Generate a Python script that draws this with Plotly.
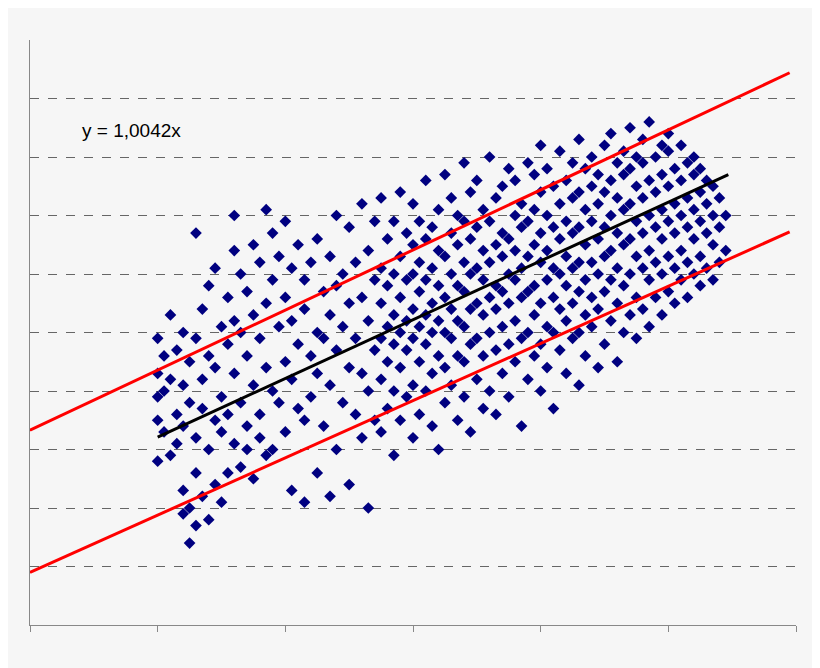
import plotly.graph_objects as go

# scatter cloud, stored as x columns with their y values
col_x = [1.0, 1.05, 1.1, 1.15, 1.2, 1.25, 1.3, 1.35, 1.4, 1.45, 1.5, 1.55, 1.6, 1.65, 1.7,
         1.75, 1.8, 1.85, 1.9, 1.95, 2.0, 2.05, 2.1, 2.15, 2.2, 2.25, 2.3, 2.35, 2.4, 2.45,
         2.5, 2.55, 2.6, 2.65, 2.7, 2.75, 2.8, 2.85, 2.9, 2.95, 3.0, 3.05, 3.1, 3.15, 3.2,
         3.25, 3.3, 3.35, 3.4, 3.45, 3.5, 3.55, 3.6, 3.65, 3.7, 3.75, 3.8, 3.85, 3.9, 3.95,
         4.0, 4.05, 4.1, 4.15, 4.2, 4.25, 4.3, 4.35, 4.4, 4.45, 4.5, 4.55, 4.6, 4.65, 4.7,
         4.75, 4.8, 4.85, 4.9, 4.95, 5.0, 5.05, 5.1, 5.15, 5.2, 5.25, 5.3, 5.35, 5.4, 5.45]
col_y = [
    [3.5, 4.3, 4.9, 2.8, 3.9], [4.0, 3.3, 4.6], [2.9, 4.2, 5.3], [3.6, 4.7, 3.1],
    [2.3, 1.9, 4.1, 5.0, 3.4], [1.4, 2.0, 3.8, 4.5], [1.7, 2.6, 4.9, 3.2, 6.7],
    [2.2, 3.7, 5.4, 4.2], [1.8, 3.0, 4.6, 5.8], [2.4, 3.5, 4.4, 6.1], [2.1, 3.9, 5.1, 3.3],
    [2.6, 4.8, 5.6, 3.6], [3.1, 4.3, 6.4, 7.0, 5.2], [2.7, 3.8, 5.0, 6.0],
    [3.4, 4.6, 5.7, 3.0], [2.5, 4.1, 5.3, 6.5], [3.6, 4.9, 6.2, 3.2], [4.4, 5.5, 7.1, 2.9],
    [3.0, 4.0, 5.9, 6.7], [3.8, 5.1, 6.3], [3.3, 4.5, 5.6, 6.9], [2.3, 4.2, 5.2, 6.1],
    [3.7, 4.8, 6.5], [2.1, 3.5, 5.4, 5.9], [3.9, 4.6, 6.2], [2.6, 4.3, 5.0, 6.6],
    [3.4, 4.9, 5.7], [2.2, 4.1, 5.3, 6.3], [3.0, 4.7, 5.8, 7.0], [3.8, 5.1, 6.0],
    [2.4, 4.4, 5.5, 6.8], [3.6, 4.9, 6.2], [3.2, 4.3, 5.6, 7.2], [2.0, 4.0, 5.2, 6.4],
    [3.5, 4.7, 5.9, 6.9],
    [3.3, 4.2, 4.9, 5.5, 6.1, 7.3], [3.7, 4.5, 5.1, 5.8, 6.6], [2.9, 4.0, 4.8, 5.3, 6.0, 6.9],
    [3.5, 4.4, 5.0, 5.6, 6.3, 7.4], [3.9, 4.7, 5.2, 5.9, 6.7],
    [3.2, 4.1, 4.9, 5.4, 6.0, 6.5, 7.2], [3.6, 4.5, 5.1, 5.7, 6.2, 6.9],
    [4.0, 4.8, 5.3, 5.9, 6.6, 7.6], [3.4, 4.3, 5.0, 5.5, 6.1, 6.8],
    [3.0, 4.6, 5.2, 5.8, 6.4, 7.1], [3.8, 4.4, 5.0, 5.6, 6.3, 7.7],
    [4.1, 4.9, 5.4, 6.0, 6.7, 7.3], [3.5, 4.6, 5.2, 5.8, 6.5, 7.0],
    [3.9, 4.5, 5.1, 5.7, 6.2, 6.9, 7.9], [3.3, 4.8, 5.4, 6.0, 6.6, 7.4],
    [4.2, 4.9, 5.5, 6.1, 6.8, 7.6], [3.7, 4.6, 5.3, 5.9, 6.4, 7.1],
    [4.0, 5.0, 5.6, 6.2, 6.9, 8.0], [3.6, 4.7, 5.4, 5.8, 6.5, 7.3],
    [4.3, 5.1, 5.7, 6.3, 6.7, 7.5], [3.9, 4.8, 5.5, 6.0, 6.6, 7.8],
    [4.5, 5.2, 5.9, 6.4, 7.0, 7.6], [3.4, 4.9, 5.6, 6.1, 6.8, 7.2],
    [4.2, 5.0, 5.7, 6.3, 6.9, 7.9], [4.6, 5.3, 5.8, 6.5, 7.1, 7.7],
    [4.0, 4.8, 5.5, 6.2, 6.7, 7.4, 8.2], [4.4, 5.1, 5.9, 6.4, 7.0, 7.8],
    [3.7, 5.0, 5.6, 6.1, 6.8, 7.5], [4.7, 5.4, 6.0, 6.6, 7.2, 8.1],
    [4.3, 5.2, 5.8, 6.3, 6.9, 7.6], [4.9, 5.5, 6.1, 6.7, 7.3, 7.9],
    [4.1, 5.0, 5.7, 6.2, 6.8, 7.4, 8.3], [4.6, 5.3, 5.9, 6.5, 7.1, 7.8],
    [5.1, 5.6, 6.2, 6.9, 7.5, 8.0], [4.4, 5.4, 6.0, 6.6, 7.2, 7.7],
    [4.8, 5.7, 6.3, 6.8, 7.4, 8.2], [5.2, 5.9, 6.4, 7.0, 7.6, 8.4],
    [4.5, 5.5, 6.1, 6.7, 7.3, 7.9], [5.0, 5.8, 6.5, 7.1, 7.7, 8.1],
    [5.3, 6.0, 6.6, 7.2, 7.8, 8.5], [4.9, 5.6, 6.3, 6.9, 7.5, 8.0],
    [5.4, 6.1, 6.7, 7.3, 7.9, 8.3], [5.1, 5.9, 6.4, 7.0, 7.6, 8.6],
    [5.6, 6.2, 6.8, 7.4, 8.0], [5.3, 6.0, 6.6, 7.1, 7.7, 8.2],
    [5.7, 6.3, 6.9, 7.5, 8.1, 8.4], [5.5, 6.1, 6.7, 7.2, 7.8],
    [5.9, 6.4, 7.0, 7.6, 8.2], [5.6, 6.2, 6.8, 7.3, 7.9], [6.0, 6.6, 7.1, 7.7, 8.0],
    [5.8, 6.3, 6.9, 7.4, 7.8], [6.1, 6.7, 7.2, 7.6], [5.9, 6.5, 7.0, 7.5],
    [6.2, 6.8, 7.3], [6.4, 7.0],
]

# fitted line and band limits (endpoints)
fit_x = [1.0, 5.47]
fit_y = [3.21, 7.70]
band_x = [0.0, 5.95]
upper_y = [3.33, 9.44]
lower_y = [0.90, 6.72]

pts_x = [x for x, ys in zip(col_x, col_y) for _ in ys]
pts_y = [y for ys in col_y for y in ys]

BG = "#f6f6f6"

fig = go.Figure()
fig.add_trace(go.Scatter(x=pts_x, y=pts_y, mode="markers",
                         marker=dict(symbol="diamond", size=9, color="#000080")))
fig.add_trace(go.Scatter(x=band_x, y=upper_y, mode="lines", line=dict(color="#ff0000", width=3)))
fig.add_trace(go.Scatter(x=band_x, y=lower_y, mode="lines", line=dict(color="#ff0000", width=3)))
fig.add_trace(go.Scatter(x=fit_x, y=fit_y, mode="lines", line=dict(color="#000000", width=3)))

fig.update_layout(
    width=820, height=668,
    paper_bgcolor=BG, plot_bgcolor=BG,
    showlegend=False,
    margin=dict(l=22, r=32, t=32, b=51),
    font=dict(family="Liberation Sans, Arial", color="#000"),
    xaxis=dict(range=[0, 6], tickvals=[0, 1, 2, 3, 4, 5, 6], showticklabels=False,
               ticks="outside", ticklen=6, tickcolor="#888", showgrid=False,
               zeroline=False, showline=True, linecolor="#888", linewidth=1),
    yaxis=dict(range=[0, 10], tickvals=[1, 2, 3, 4, 5, 6, 7, 8, 9], showticklabels=False,
               showgrid=True, gridcolor="#666", griddash="dash", gridwidth=1,
               zeroline=False, showline=True, linecolor="#888", linewidth=1),
    annotations=[dict(text="y = 1,0042x", xref="paper", yref="paper", x=0.065, y=0.845,
                      xanchor="left", yanchor="middle", showarrow=False,
                      font=dict(size=19, color="#000"))],
)

fig.write_html("out.html")
